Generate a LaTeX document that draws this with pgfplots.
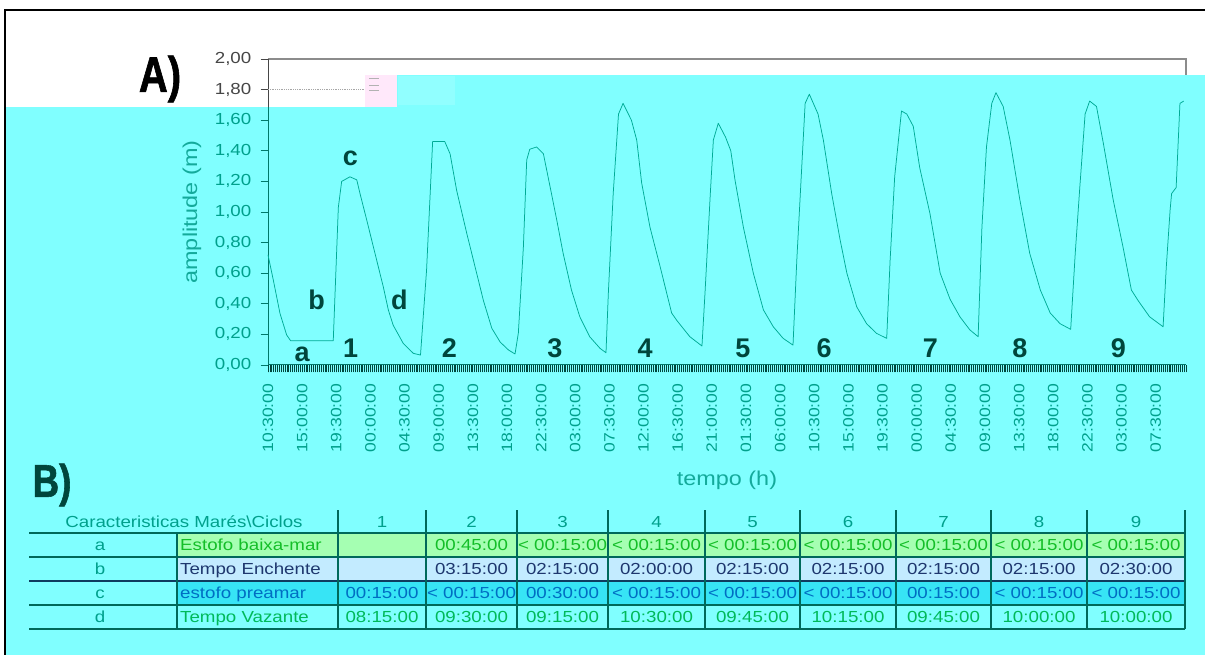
\documentclass[border=0pt]{standalone}
\usepackage{fontspec}
\usepackage{pgfplots}
\pgfplotsset{compat=1.18}
\setmainfont{Liberation Sans}
\newfontfamily\chartfont[FakeStretch=1.17]{Liberation Sans}
\newfontfamily\panelfont[FakeStretch=0.8,FakeBold=1.2]{Liberation Sans Bold}
\newfontfamily\markfont{Liberation Sans Bold}

\definecolor{bgcyan}{RGB}{128,255,255}
\definecolor{paleband}{RGB}{145,255,255}
\definecolor{pinkbox}{RGB}{255,232,250}
\definecolor{ticktxt}{RGB}{0,160,140}
\definecolor{titletxt}{RGB}{20,170,155}
\definecolor{darkteal}{RGB}{0,70,60}
\definecolor{axisteal}{RGB}{0,120,105}
\definecolor{curvecol}{RGB}{0,170,150}
\definecolor{framegray}{RGB}{140,140,140}
\definecolor{axisgray}{RGB}{70,70,70}
\definecolor{rowa}{RGB}{165,255,178}
\definecolor{rowatxt}{RGB}{20,190,40}
\definecolor{rowb}{RGB}{195,235,255}
\definecolor{rowbtxt}{RGB}{30,55,110}
\definecolor{rowc}{RGB}{55,228,245}
\definecolor{rowctxt}{RGB}{0,110,195}
\definecolor{rowdtxt}{RGB}{0,185,90}
\definecolor{gridteal}{RGB}{0,105,90}
\definecolor{gridnavy}{RGB}{15,60,95}

\newcommand\tickfont{\chartfont\fontsize{15}{15}\selectfont}
\newcommand\tblfont{\chartfont\fontsize{16}{16}\selectfont}

\begin{document}
\begin{tikzpicture}[x=1pt,y=1pt,
  tbl/.style={font=\tblfont, inner sep=0pt, text height=11.5pt, text depth=0pt, anchor=center},
  cyc/.style={font=\markfont\fontsize{27}{27}\selectfont, text=darkteal, anchor=base, inner sep=0pt}]
\path[use as bounding box] (0,0) rectangle (1205,655);

% page background and highlighted region
\fill[white] (0,0) rectangle (1205,655);
\fill[bgcyan] (5,0) rectangle (1205,548);
\fill[bgcyan] (397,548) rectangle (1205,580);
\fill[pinkbox] (365,548) rectangle (397,580);
\fill[paleband] (398,550) rectangle (455,579);
\foreach \yy in {577,570,565} \draw[gray!60, line width=0.8pt] (369,\yy) -- (379,\yy);
\draw[black, line width=2.5pt] (5,0) -- (5,645) -- (1205,645);

% panel tags
\node[font=\panelfont\fontsize{50}{50}\selectfont, text=black, inner sep=0pt] at (160,576) {A)};
\node[font=\panelfont\fontsize{46}{46}\selectfont, text=darkteal, inner sep=0pt] at (52,170) {B)};

\begin{axis}[
  at={(268pt,290pt)}, anchor=south west,
  scale only axis, width=918pt, height=306pt,
  xmin=0, xmax=121, ymin=0, ymax=2,
  clip=false,
  axis x line*=bottom, axis y line*=left,
  axis line style={axisteal, line width=1pt},
  tick align=outside,
  major tick length=7.5pt, minor tick length=7.5pt,
  xtick={0,4.5,...,117},
  minor xtick={0,0.25,...,121},
  xtick style={darkteal, line width=0.75pt},
  every minor tick/.append style={darkteal, line width=0.75pt},
  ytick style={axisteal, line width=0.8pt},
  xticklabels={10:30:00,15:00:00,19:30:00,00:00:00,04:30:00,09:00:00,13:30:00,18:00:00,22:30:00,03:00:00,07:30:00,12:00:00,16:30:00,21:00:00,01:30:00,06:00:00,10:30:00,15:00:00,19:30:00,00:00:00,04:30:00,09:00:00,13:30:00,18:00:00,22:30:00,03:00:00,07:30:00},
  xticklabel style={rotate=90, anchor=east, inner sep=0pt, font=\tickfont, text=ticktxt},
  xticklabel shift=11pt,
  ytick={0,0.2,0.4,0.6,0.8,1,1.2,1.4,1.6,1.8,2},
  yticklabels={{0,00},{0,20},{0,40},{0,60},{0,80},{1,00},{1,20},{1,40},{1,60},{\color{axisgray}1,80},{\color{axisgray}2,00}},
  yticklabel style={anchor=east, inner sep=0pt, font=\chartfont\fontsize{16}{16}\selectfont, text=ticktxt},
  yticklabel shift=9pt,
  xlabel={tempo (h)},
  xlabel style={at={(axis description cs:0.5,-0.3758)}, anchor=center, inner sep=0pt,
    font=\chartfont\fontsize{20}{20}\selectfont, text=titletxt},
  ylabel={amplitude (m)},
  ylabel style={at={(axis description cs:-0.0828,0.5)}, anchor=center, inner sep=0pt,
    font=\chartfont\fontsize{20}{20}\selectfont, text=titletxt},
]
% tidal level record
\addplot[curvecol, line width=0.75pt, mark=none, line join=round] coordinates {
(0,0.72) (0.7,0.555) (1.58,0.337) (2.46,0.196) (2.99,0.158) (8.6,0.158)
(9.27,1.03) (9.71,1.20) (10.8,1.23) (11.7,1.21) (12.13,1.12) (13.0,0.95)
(14.1,0.73) (15.2,0.51) (15.86,0.36) (16.5,0.26) (17.84,0.14) (19.16,0.076)
(20.1,0.065) (20.9,0.62) (21.7,1.46) (23.3,1.46) (24.0,1.38) (24.87,1.14)
(26.2,0.86) (27.5,0.60) (28.4,0.42) (29.5,0.24) (30.6,0.15) (31.7,0.098)
(32.56,0.072) (33.0,0.21) (33.66,0.77) (34.1,1.34) (34.5,1.41) (35.4,1.425)
(36.3,1.38) (37.2,1.16) (38.05,0.95) (38.9,0.73) (40.0,0.49) (41.1,0.315)
(42.4,0.185) (43.76,0.109) (44.55,0.08) (44.86,0.47) (45.5,1.12) (46.2,1.64)
(46.8,1.71) (47.9,1.60) (48.6,1.47) (49.25,1.19) (50.35,0.90) (51.7,0.64)
(53.2,0.34) (53.9,0.29) (55.6,0.185) (57.2,0.124) (57.6,0.47) (58.3,1.12)
(58.7,1.47) (59.35,1.58) (60.3,1.49) (61.0,1.40) (61.55,1.21) (62.66,0.90)
(63.97,0.60) (65.3,0.36) (66.6,0.25) (67.9,0.174) (69.2,0.13) (69.7,0.685)
(70.4,1.34) (70.8,1.71) (71.35,1.77) (72.5,1.64) (73.2,1.47) (74.3,1.12)
(75.4,0.82) (76.3,0.60) (77.6,0.38) (78.9,0.27) (80.2,0.207) (81.55,0.174)
(82.0,0.685) (82.6,1.23) (83.5,1.66) (84.2,1.64) (85.05,1.56) (85.9,1.29)
(87.25,0.99) (88.6,0.60) (89.9,0.43) (91.2,0.315) (92.5,0.23) (93.6,0.185)
(94.1,0.90) (94.7,1.425) (95.4,1.71) (95.95,1.78) (96.9,1.69) (97.8,1.47)
(99.1,1.08) (100.4,0.73) (101.8,0.49) (103.1,0.34) (104.4,0.27) (105.8,0.233)
(106.4,0.73) (107.0,1.16) (107.7,1.64) (108.3,1.725) (109.2,1.69) (110.1,1.45)
(111.4,1.08) (112.7,0.77) (113.8,0.49) (114.7,0.42) (116.2,0.315) (117.98,0.25)
(118.4,0.64) (118.9,1.01) (119.1,1.12) (119.7,1.16) (120.2,1.71) (120.7,1.725)
};
% frame parts above the highlighted area
\draw[framegray, line width=1.4pt] (axis cs:0,2) -- (axis cs:121,2) -- (axis cs:121,1.893);
\draw[axisgray, line width=1pt] (axis cs:0,1.684) -- (axis cs:0,2);
\draw[axisgray, line width=0.8pt] (axis cs:0,1.8) -- ++(-7.5pt,0);
\draw[axisgray, line width=0.8pt] (axis cs:0,2) -- ++(-7.5pt,0);
\draw[gray!70, densely dotted, line width=0.8pt] (axis cs:0,1.8) -- (axis cs:12.8,1.8);
% tide phase marks and cycle numbers
\node[cyc] at (axis cs:4.5,0.02) {a};
\node[cyc] at (axis cs:6.4,0.365) {b};
\node[cyc] at (axis cs:10.85,1.305) {c};
\node[cyc] at (axis cs:17.3,0.365) {d};
\node[cyc] at (axis cs:10.9,0.046) {1};
\node[cyc] at (axis cs:23.9,0.046) {2};
\node[cyc] at (axis cs:37.8,0.046) {3};
\node[cyc] at (axis cs:49.7,0.046) {4};
\node[cyc] at (axis cs:62.6,0.046) {5};
\node[cyc] at (axis cs:73.3,0.046) {6};
\node[cyc] at (axis cs:87.3,0.046) {7};
\node[cyc] at (axis cs:99.1,0.046) {8};
\node[cyc] at (axis cs:112.1,0.046) {9};
\end{axis}

% table B: row bands
\fill[rowa] (177,98) rectangle (1185,122);
\fill[rowb] (177,74) rectangle (1185,98);
\fill[rowc] (177,50) rectangle (1185,74);
% table rules
\draw[gridteal, line width=1.1pt] (29,122) -- (1185,122);
\draw[gridteal, line width=1.1pt] (29,98) -- (1185,98);
\draw[gridnavy, line width=1.1pt] (29,74) -- (1185,74);
\draw[gridteal, line width=1.1pt] (29,50) -- (1185,50);
\draw[gridteal, line width=1.1pt] (29,26) -- (1185,26);
\draw[gridteal, line width=1.1pt] (177,26) -- (177,122);
\foreach \xx in {338,426,517,608,705,800,896,991,1087,1185}
  \draw[gridteal, line width=1.1pt] (\xx,26) -- (\xx,145);
% header
\node[tbl, text=ticktxt] at (184,133.5) {Caracteristicas Marés\textbackslash Ciclos};
\foreach \xx/\n in {382/1,471.5/2,562.5/3,656.5/4,752.5/5,848/6,943.5/7,1039/8,1136/9}
  \node[tbl, text=ticktxt] at (\xx,133.5) {\n};
% first columns
\node[tbl, text=ticktxt] at (100,110) {a};
\node[tbl, text=ticktxt] at (100,86) {b};
\node[tbl, text=ticktxt] at (100,62) {c};
\node[tbl, text=ticktxt] at (100,38) {d};
\node[tbl, anchor=west, text=rowatxt] at (180,110) {Estofo baixa-mar};
\node[tbl, anchor=west, text=rowbtxt] at (180,86) {Tempo Enchente};
\node[tbl, anchor=west, text=rowctxt] at (180,62) {estofo preamar};
\node[tbl, anchor=west, text=rowdtxt] at (180,38) {Tempo Vazante};
% cycle values
\foreach \xx/\v in {471.5/{00:45:00},562.5/{< 00:15:00},656.5/{< 00:15:00},752.5/{< 00:15:00},848/{< 00:15:00},943.5/{< 00:15:00},1039/{< 00:15:00},1136/{< 00:15:00}}
  \node[tbl, text=rowatxt] at (\xx,110) {\v};
\foreach \xx/\v in {471.5/{03:15:00},562.5/{02:15:00},656.5/{02:00:00},752.5/{02:15:00},848/{02:15:00},943.5/{02:15:00},1039/{02:15:00},1136/{02:30:00}}
  \node[tbl, text=rowbtxt] at (\xx,86) {\v};
\foreach \xx/\v in {382/{00:15:00},471.5/{< 00:15:00},562.5/{00:30:00},656.5/{< 00:15:00},752.5/{< 00:15:00},848/{< 00:15:00},943.5/{00:15:00},1039/{< 00:15:00},1136/{< 00:15:00}}
  \node[tbl, text=rowctxt] at (\xx,62) {\v};
\foreach \xx/\v in {382/{08:15:00},471.5/{09:30:00},562.5/{09:15:00},656.5/{10:30:00},752.5/{09:45:00},848/{10:15:00},943.5/{09:45:00},1039/{10:00:00},1136/{10:00:00}}
  \node[tbl, text=rowdtxt] at (\xx,38) {\v};
\end{tikzpicture}
\end{document}
